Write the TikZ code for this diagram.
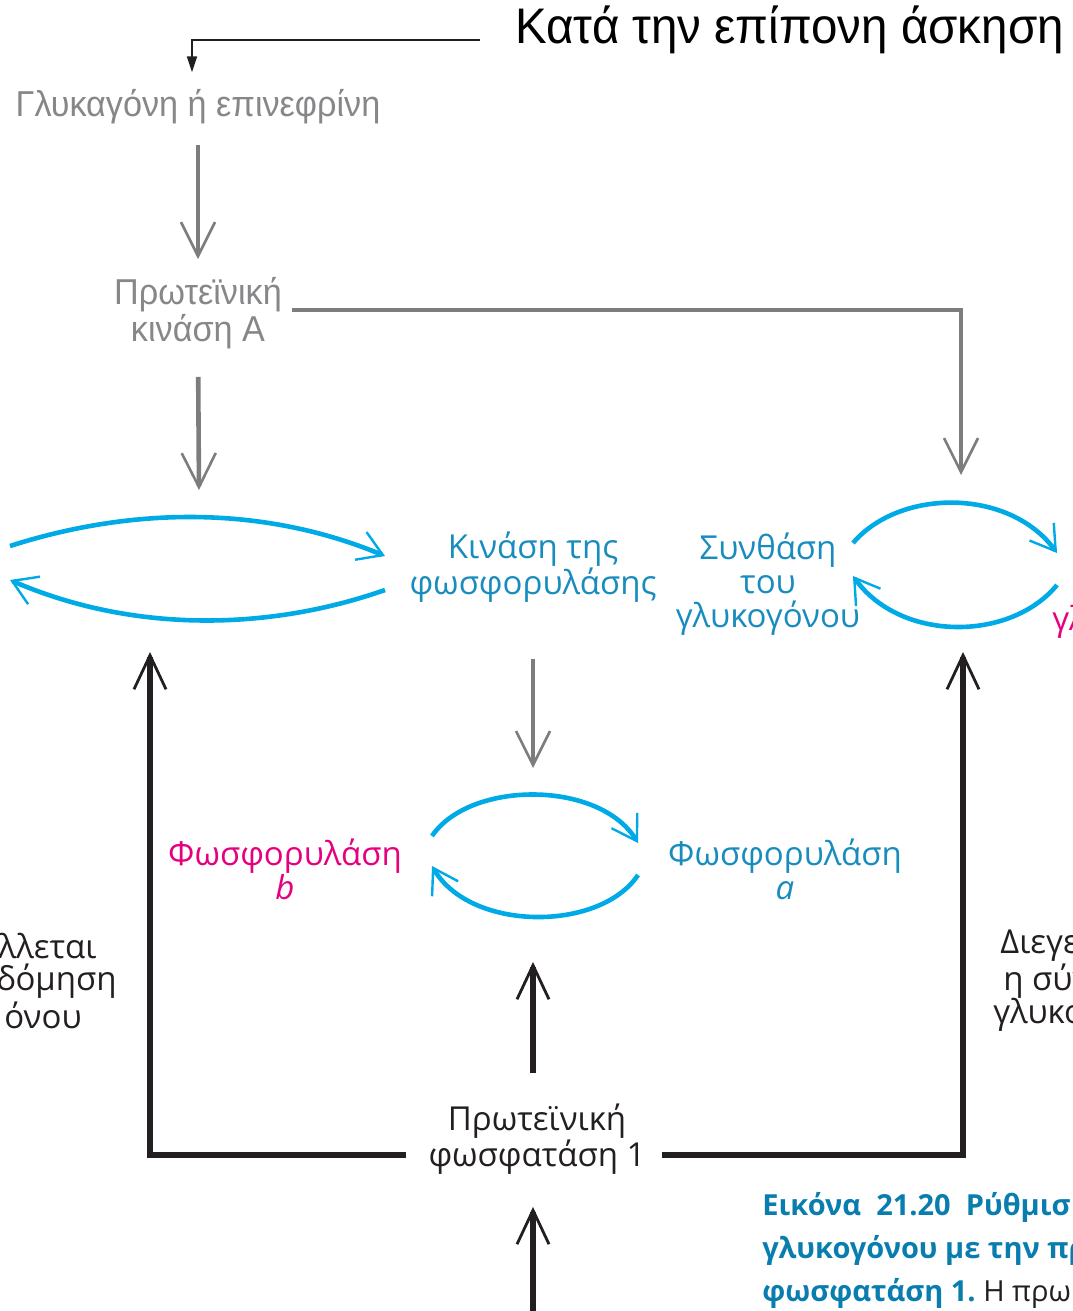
\documentclass[tikz,border=0pt]{standalone}
\usepackage{fontspec}
\setmainfont{Open Sans}
\newfontfamily\narrowsans{Liberation Sans}[FakeStretch=0.95]
\usepackage{tikz}
\usetikzlibrary{arrows.meta,positioning,calc}
\usepackage{xcolor}
\definecolor{cyanarc}{RGB}{0,170,230}
\definecolor{bluetext}{RGB}{25,140,190}
\definecolor{pinktext}{RGB}{230,0,126}
\definecolor{greyline}{RGB}{125,125,128}
\definecolor{greytext}{RGB}{135,135,138}
\definecolor{inkblack}{RGB}{35,31,32}
\definecolor{captionblue}{RGB}{10,125,175}

\tikzset{
  plain text/.style={font=\fontsize{16.5}{17}\selectfont, align=center, inner sep=0pt, text=inkblack},
  blue text/.style={plain text, text=bluetext},
  pink text/.style={plain text, text=pinktext},
  grey text/.style={font=\narrowsans\fontsize{18}{17}\selectfont, align=center, inner sep=0pt, text=greytext},
  grey arrow/.style={draw=greyline, line width=2.3pt, -{Straight Barb[length=17pt,width=17pt,line width=1.3pt]}},
  black arrow/.style={draw=inkblack, line width=2.8pt, -{Straight Barb[length=17pt,width=16pt,line width=1.4pt]}},
  cycle arc/.style={draw=cyanarc, line width=2.3pt, -{Straight Barb[length=12pt,width=15pt,line width=1.2pt]}},
  caption text/.style={font=\bfseries\fontsize{14.5}{21.5}\selectfont, align=left, inner sep=0pt, text=captionblue, anchor=west}
}

\begin{document}
\begin{tikzpicture}[x=0.5pt,y=-0.5pt,>=Stealth]
  \useasboundingbox (0,0) rectangle (1072,1311);
  \clip (0,0) rectangle (1072,1311);

  % labels
  \node[font=\narrowsans\fontsize{25}{28}\selectfont, inner sep=0pt, anchor=west] (exercise) at (515,30) {Κατά την επίπονη άσκηση};
  \node[grey text] (gluc) at (198,107) {Γλυκαγόνη ή επινεφρίνη};
  \node[grey text] (pka) at (198,313) {Πρωτεϊνική\\κινάση A};
  \node[blue text] (phk) at (533,567) {Κινάση της\\φωσφορυλάσης};
  \node[blue text] (gs) at (768,584) {Συνθάση\\του\\γλυκογόνου};
  \node[pink text, anchor=west] (glyc) at (1052,622) {γλ};
  \node[pink text] (phb) at (285,869) {Φωσφορυλάση\\\textit{b}};
  \node[blue text] (pha) at (785,869) {Φωσφορυλάση\\\textit{a}};
  \node[plain text] (pp1) at (537,1139) {Πρωτεϊνική\\φωσφατάση 1};

  \node[plain text, anchor=east] (inhib1) at (97,946) {λλεται};
  \node[plain text, anchor=east] (inhib2) at (117,981) {δόμηση};
  \node[plain text, anchor=east] (inhib3) at (82,1015) {όνου};
  \node[plain text, anchor=west] (stim1) at (1000,946) {Διεγε};
  \node[plain text, anchor=west] (stim2) at (1003,981) {η σύν};
  \node[plain text, anchor=west] (stim3) at (993,1015) {γλυκο};

  \node[caption text] (cap1) at (762,1207) {Εικόνα\ \ 21.20\ \ Ρύθμισ};
  \node[caption text] (cap2) at (762,1250) {γλυκογόνου με την πρ};
  \node[caption text] (cap3) at (762,1293) {φωσφατάση 1.\ \mdseries\color{inkblack}Η πρω};

  % free ends of the connectors
  \coordinate (cycleL) at (199,490);
  \coordinate (cycleR) at (961,475);
  \coordinate (cycleM) at (533,768);
  \coordinate (cycleMb) at (533,962);
  \coordinate (cycleLb) at (150,652);
  \coordinate (cycleRb) at (963,652);
  \coordinate (below) at (533,1330);

  % exercise pointer
  \draw[inkblack, line width=0.9pt, -{Triangle[length=8pt,width=5pt]}]
    ($(exercise.west)+(-35,10)$) -| ($(gluc.north)+(-6,-17)$);

  % grey cascade
  \draw[grey arrow, shorten <=10pt, shorten >=9pt] (gluc) -- (pka);
  \draw[grey arrow, shorten <=14pt] (pka.south) -- (cycleL);
  \draw[grey arrow, shorten <=5pt] ([yshift=1.5pt]pka.east) -| (cycleR);
  \draw[grey arrow, shorten <=28pt] (phk.south -| cycleM) -- (cycleM);

  % cycles
  \draw[cycle arc] (10,546) .. controls (135,506) and (265,506) .. (385,556);
  \draw[cycle arc] (385,590) .. controls (265,632) and (130,632) .. (10,580);
  \draw[cycle arc] (853,543) .. controls (900,488) and (1010,488) .. (1057,553);
  \draw[cycle arc] (1057,585) .. controls (1010,642) and (900,642) .. (853,576);
  \draw[cycle arc] (432,836) .. controls (470,780) and (600,780) .. (638,843);
  \draw[cycle arc] (638,875) .. controls (600,932) and (470,932) .. (432,866);

  % phosphatase 1
  \draw[black arrow, shorten <=15pt] (cycleMb |- pp1.north) -- (cycleMb);
  \draw[black arrow, shorten <=11pt] ([yshift=-8pt]pp1.west) -| (cycleLb);
  \draw[black arrow, shorten <=8pt] ([yshift=-8pt]pp1.east) -| (cycleRb);
  \draw[black arrow, shorten >=16pt] (below) -- (below |- pp1.south);
\end{tikzpicture}
\end{document}
